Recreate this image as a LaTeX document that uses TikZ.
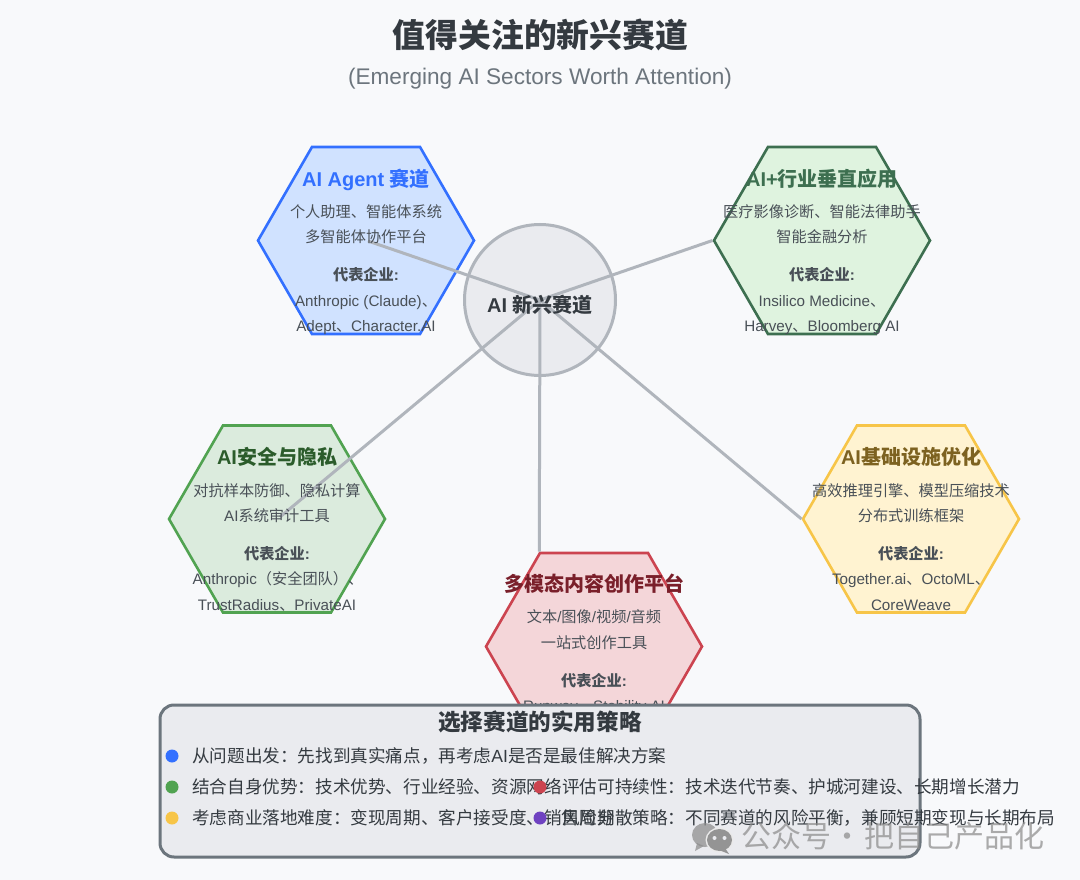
\documentclass[tikz,border=0pt]{standalone}
\usepackage{fontspec}
\setmainfont{Liberation Sans}
\newfontfamily\cjk{Noto Sans CJK SC}
\newcommand{\C}[1]{{\cjk #1}}
\usetikzlibrary{shapes.geometric}
\definecolor{bgc}{HTML}{F8F9FB}
\definecolor{ink}{HTML}{343A40}
\definecolor{bodyc}{HTML}{495057}
\definecolor{subc}{HTML}{6C757D}
\definecolor{linec}{HTML}{B0B5BC}
\definecolor{panel}{HTML}{EAEBEF}
\definecolor{bluec}{HTML}{3370FF}\definecolor{bluef}{HTML}{D0E2FF}
\definecolor{greenc}{HTML}{3D6F50}\definecolor{greenf}{HTML}{DFF3DF}
\definecolor{leafc}{HTML}{51A351}\definecolor{leaff}{HTML}{DBEBDD}\definecolor{leaft}{HTML}{2B5C2B}
\definecolor{yelc}{HTML}{F7C548}\definecolor{yelf}{HTML}{FFF3D1}\definecolor{yelt}{HTML}{7D6220}
\definecolor{redc}{HTML}{CC4450}\definecolor{redf}{HTML}{F4D6D9}\definecolor{redt}{HTML}{7A1F2A}
\definecolor{purc}{HTML}{6F42C1}
\tikzset{
  x=1pt,y=-1pt,
  hex/.style={regular polygon,regular polygon sides=6,minimum size=216pt,inner sep=0pt,line width=2.6pt,draw=#1},
  hextitle/.style={font=\fontsize{20}{24}\selectfont\bfseries,text=#1,inner sep=0pt,text height=17.6pt,text depth=2.4pt},
  bodytxt/.style={font=\fontsize{15.2}{18}\selectfont,text=bodyc,inner sep=0pt,text height=13.4pt,text depth=1.8pt},
  bodybold/.style={bodytxt,font=\fontsize{15.2}{18}\selectfont\bfseries},
  conn/.style={draw=linec,line width=3pt},
  strat/.style={font=\fontsize{17.6}{21}\selectfont,text=ink,inner sep=0pt,anchor=west,text height=15.5pt,text depth=2.1pt},
  dotb/.style={circle,fill=#1,minimum size=13pt,inner sep=0pt},
  wm/.style={font=\fontsize{30}{36}\selectfont,text=black!45,text opacity=.72,inner sep=0pt,text height=26.4pt,text depth=3.6pt},
}
\begin{document}
\begin{tikzpicture}
\useasboundingbox (0,0) rectangle (1080,880);
\fill[bgc] (0,0) rectangle (1080,880);
\node[font=\fontsize{32.8}{40}\selectfont\bfseries,text=ink,inner sep=0pt,text height=29pt,text depth=4pt] (title) at (540.5,35) {\C{值得关注的新兴赛道}};
\node[font=\fontsize{22.6}{26}\selectfont,text=subc,inner sep=0pt,text height=17pt,text depth=5pt] (subtitle) at (540,79) {(Emerging AI Sectors Worth Attention)};
% hexagons
\node[hex=bluec,fill=bluef] (agent) at (366,240.5) {};
\node[hex=greenc,fill=greenf] (vert) at (822,240.5) {};
\node[hex=leafc,fill=leaff] (safe) at (277,519) {};
\node[hex=yelc,fill=yelf] (infra) at (911,519) {};
\node[hex=redc,fill=redf] (multi) at (594,646.5) {};
% hub
\node[circle,draw=linec,line width=3pt,fill=panel,minimum size=151pt,inner sep=0pt] (hub) at (540,300) {};
% connector ends inside hexagons
\coordinate (agentend) at (368,241);
\coordinate (safeend) at (280,517);
\draw[conn] (hub.center) -- (agentend);
\draw[conn] (hub.center) -- (vert.corner 3);
\draw[conn] (hub.center) -- (safeend);
\draw[conn] (hub.center) -- (infra.corner 3);
\draw[conn] (hub.center) -- (multi.corner 2);
\node[font=\fontsize{20}{24}\selectfont\bfseries,text=ink,inner sep=0pt,text height=17.6pt,text depth=2.4pt] (hubt) at (540,305) {AI \C{新兴赛道}};
% agent text
\node[hextitle=bluec] (a1) at (366,179) {AI Agent \C{赛道}};
\node[bodytxt] (a2) at (366,212) {\C{个人助理、智能体系统}};
\node[bodytxt] (a3) at (366,237) {\C{多智能体协作平台}};
\node[bodybold] (a4) at (366,275) {\C{代表企业}:};
\node[bodytxt] (a5) at (366,301) {Anthropic (Claude)\C{、}};
\node[bodytxt] (a6) at (366,326) {Adept\C{、}Character.AI};
% vertical text
\node[hextitle=greenc] (v1) at (822,179) {AI+\C{行业垂直应用}};
\node[bodytxt] (v2) at (822,212) {\C{医疗影像诊断、智能法律助手}};
\node[bodytxt] (v3) at (822,237) {\C{智能金融分析}};
\node[bodybold] (v4) at (822,275) {\C{代表企业}:};
\node[bodytxt] (v5) at (822,301) {Insilico Medicine\C{、}};
\node[bodytxt] (v6) at (822,326) {Harvey\C{、}Bloomberg AI};
% safety text
\node[hextitle=leaft] (s1) at (277,457) {AI\C{安全与隐私}};
\node[bodytxt] (s2) at (277,491) {\C{对抗样本防御、隐私计算}};
\node[bodytxt] (s3) at (277,516) {AI\C{系统审计工具}};
\node[bodybold] (s4) at (277,554) {\C{代表企业}:};
\node[bodytxt] (s5) at (278,579) {Anthropic\C{（安全团队）、}};
\node[bodytxt] (s6) at (277,605) {TrustRadius\C{、}PrivateAI};
% infra text
\node[hextitle=yelt] (i1) at (911,457) {AI\C{基础设施优化}};
\node[bodytxt] (i2) at (911,491) {\C{高效推理引擎、模型压缩技术}};
\node[bodytxt] (i3) at (911,516) {\C{分布式训练框架}};
\node[bodybold] (i4) at (911,554) {\C{代表企业}:};
\node[bodytxt] (i5) at (911,579) {Together.ai\C{、}OctoML\C{、}};
\node[bodytxt] (i6) at (911,605) {CoreWeave};
% multi text
\node[hextitle=redt] (m1) at (594,584) {\C{多模态内容创作平台}};
\node[bodytxt] (m2) at (594,617) {\C{文本}/\C{图像}/\C{视频}/\C{音频}};
\node[bodytxt] (m3) at (594,643) {\C{一站式创作工具}};
\node[bodybold] (m4) at (594,681) {\C{代表企业}:};
\node[bodytxt] (m5) at (594,706) {Runway\C{、}Stability AI};
% strategy panel
\draw[draw=subc,fill=panel,line width=3pt,rounded corners=14pt] (160,705) rectangle (920,857);
\node[font=\fontsize{22.6}{27}\selectfont\bfseries,text=ink,inner sep=0pt,text height=19.9pt,text depth=2.7pt] (pt) at (540,722) {\C{选择赛道的实用策略}};
\node[strat] (p1) at (192,756) {\C{从问题出发：先找到真实痛点，再考虑}AI\C{是否是最佳解决方案}};
\node[strat] (p2) at (192,787) {\C{结合自身优势：技术优势、行业经验、资源网络}};
\node[strat] (p3) at (192,818) {\C{考虑商业落地难度：变现周期、客户接受度、销售周期}};
\node[dotb=bluec] (d1) at (172,756) {};
\node[dotb=leafc] (d2) at (172,787) {};
\node[dotb=yelc] (d3) at (172,818) {};
\node[dotb=redc] (d4) at (540,787) {};
\node[dotb=purc] (d5) at (540,818) {};
\node[strat] (p4) at (562,787) {\C{评估可持续性：技术迭代节奏、护城河建设、长期增长潜力}};
\node[strat] (p5) at (562,818) {\C{风险分散策略：不同赛道的风险平衡，兼顾短期变现与长期布局}};
% watermark
\fill[black!45,opacity=.72] (705,835) ellipse (13 and 12);
\fill[black!45,opacity=.72] (697,843) -- (695,851) -- (704,846) -- cycle;
\fill[bgc!60!black!20] (719.5,840) ellipse (14 and 12.5);
\fill[black!42] (719.5,840) ellipse (12.5 and 11);
\fill[black!42] (725,848) -- (729,854) -- (719,850) -- cycle;
\fill[panel] (714.5,838) circle (2);
\fill[panel] (724.5,838) circle (2);
\node[wm,anchor=west] (wm1) at (741,836) {\C{公众号\hspace{1.5pt}·\hspace{1.5pt}把自己产品化}};
\end{tikzpicture}
\end{document}
